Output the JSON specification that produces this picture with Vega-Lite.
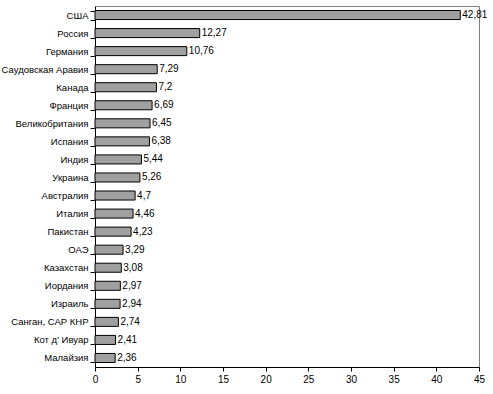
{
  "$schema": "https://vega.github.io/schema/vega-lite/v6.json",
  "autosize": "none",
  "width": 384,
  "height": 361,
  "padding": {"left": 95, "top": 6, "right": 14, "bottom": 27},
  "background": "white",
  "config": {
    "locale": {"number": {"decimal": ",", "thousands": " ", "grouping": [3], "currency": ["", ""]}},
    "font": "Liberation Sans",
    "view": {"stroke": "#808080", "strokeWidth": 1}
  },
  "data": {"values": [
    {"country": "США", "value": 42.81},
    {"country": "Россия", "value": 12.27},
    {"country": "Германия", "value": 10.76},
    {"country": "Саудовская Аравия", "value": 7.29},
    {"country": "Канада", "value": 7.2},
    {"country": "Франция", "value": 6.69},
    {"country": "Великобритания", "value": 6.45},
    {"country": "Испания", "value": 6.38},
    {"country": "Индия", "value": 5.44},
    {"country": "Украина", "value": 5.26},
    {"country": "Австралия", "value": 4.7},
    {"country": "Италия", "value": 4.46},
    {"country": "Пакистан", "value": 4.23},
    {"country": "ОАЭ", "value": 3.29},
    {"country": "Казахстан", "value": 3.08},
    {"country": "Иордания", "value": 2.97},
    {"country": "Израиль", "value": 2.94},
    {"country": "Санган, САР КНР", "value": 2.74},
    {"country": "Кот д' Ивуар", "value": 2.41},
    {"country": "Малайзия", "value": 2.36}
  ]},
  "encoding": {
    "y": {"field": "country", "type": "nominal", "sort": null,
      "scale": {"paddingInner": 0.5, "paddingOuter": 0.25},
      "axis": {"title": null, "domainColor": "black", "tickColor": "black", "tickBand": "extent", "tickSize": 5,
        "labelFontSize": 9.5, "labelColor": "black", "labelPadding": 2}},
    "x": {"field": "value", "type": "quantitative",
      "scale": {"domain": [0, 45], "nice": false},
      "axis": {"title": null, "values": [0,5,10,15,20,25,30,35,40,45], "grid": false, "domainColor": "black", "tickColor": "black", "tickSize": 4,
        "labelFontSize": 10, "labelColor": "black", "labelPadding": 3, "labelFlush": false}}
  },
  "layer": [
    {"mark": {"type": "bar", "color": "#a0a0a0", "stroke": "black", "strokeWidth": 1}},
    {"mark": {"type": "text", "align": "left", "dx": 2, "fontSize": 10, "color": "black"},
      "encoding": {"text": {"field": "value", "type": "quantitative"}}}
  ]
}
